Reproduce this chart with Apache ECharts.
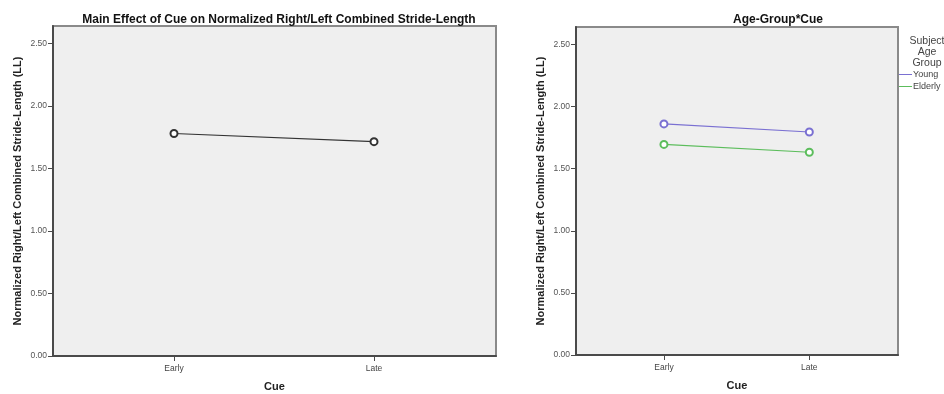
<!DOCTYPE html>
<html>
<head>
<meta charset="utf-8">
<script src="https://cdn.jsdelivr.net/npm/echarts@6/dist/echarts.min.js"></script>
<style>
  html, body { margin: 0; padding: 0; background: #ffffff; }
  #chart { width: 944px; height: 394px; }
</style>
</head>
<body>
<div id="chart"></div>
<script>
// Cue levels (x positions 0 and 1 on the x axis)
const cues = ['Early', 'Late'];
const cuePositions = [0, 1];

// Estimated marginal means of the normalized combined stride length
const mainEffect = [1.78, 1.715];
const youngMeans = [1.86, 1.795];
const elderlyMeans = [1.695, 1.632];

const groupNames = ['Young', 'Elderly'];
const yTicks = [0, 0.5, 1, 1.5, 2, 2.5];

const yTitle = 'Normalized Right/Left Combined Stride-Length (LL)';
const FONT = 'Liberation Sans, Arial, sans-serif';

function pairs(values) {
  return cuePositions.map((x, i) => [x, values[i]]);
}

function xAxis(gridIndex) {
  return {
    type: 'value', gridIndex, min: -0.605, max: 1.61,
    axisLine: { show: true, onZero: false, lineStyle: { color: '#4a4a4a', width: 2 } },
    axisTick: { show: true, customValues: cuePositions, length: 5, lineStyle: { color: '#4a4a4a' } },
    axisLabel: {
      customValues: cuePositions, formatter: v => cues[Math.round(v)] || '',
      color: '#444', fontSize: 8.5, fontFamily: FONT, margin: 8
    },
    splitLine: { show: false },
    name: 'Cue', nameLocation: 'middle', nameGap: 25,
    nameTextStyle: { fontWeight: 'bold', fontSize: 11, color: '#222', fontFamily: FONT }
  };
}

function yAxis(gridIndex) {
  return {
    type: 'value', gridIndex, min: 0, max: 2.64,
    axisLine: { show: true, onZero: false, lineStyle: { color: '#4a4a4a', width: 2 } },
    axisTick: { show: true, customValues: yTicks, length: 5, lineStyle: { color: '#4a4a4a' } },
    axisLabel: {
      customValues: yTicks, formatter: v => v.toFixed(2),
      color: '#555', fontSize: 8.5, fontFamily: FONT, margin: 6
    },
    splitLine: { show: false },
    name: yTitle, nameLocation: 'middle', nameGap: 30,
    nameTextStyle: { fontWeight: 'bold', fontSize: 11, color: '#222', fontFamily: FONT }
  };
}

function lineSeries(name, values, color, idx, markerColor) {
  return {
    name, type: 'line', xAxisIndex: idx, yAxisIndex: idx,
    data: pairs(values),
    symbol: 'emptyCircle', symbolSize: 7,
    lineStyle: { color, width: 1.2 },
    itemStyle: { color, borderColor: markerColor, borderWidth: 0.8 },
    emphasis: { disabled: true },
    animation: false
  };
}

const chart = echarts.init(document.getElementById('chart'), null, { renderer: 'canvas' });
chart.setOption({
  backgroundColor: '#ffffff',
  animation: false,
  title: [
    {
      text: 'Main Effect of Cue on Normalized Right/Left Combined Stride-Length',
      left: 274, top: 9, textAlign: 'center',
      textStyle: { fontSize: 12, fontWeight: 'bold', color: '#111', fontFamily: FONT }
    },
    {
      text: 'Age-Group*Cue',
      left: 773, top: 9, textAlign: 'center',
      textStyle: { fontSize: 12, fontWeight: 'bold', color: '#111', fontFamily: FONT }
    },
    {
      text: 'Subject\nAge\nGroup',
      left: 922, top: 31, textAlign: 'center',
      textStyle: { fontSize: 10.5, fontWeight: 'normal', color: '#444', fontFamily: FONT, lineHeight: 11 }
    }
  ],
  legend: {
    data: groupNames,
    orient: 'vertical', left: 899, top: 70,
    icon: 'rect', itemWidth: 13, itemHeight: 1, itemGap: 3,
    itemStyle: { borderWidth: 0 },
    textStyle: { fontSize: 9, color: '#444', fontFamily: FONT, padding: [0, 0, 0, -4] },
    padding: 0,
    selectedMode: false
  },
  grid: [
    { left: 53, right: 448, top: 26, bottom: 38, show: true, outerBoundsMode: 'none',
      backgroundColor: '#efefef', borderColor: '#8a8a8a', borderWidth: 2 },
    { left: 576, right: 46, top: 27, bottom: 39, show: true, outerBoundsMode: 'none',
      backgroundColor: '#efefef', borderColor: '#8a8a8a', borderWidth: 2 }
  ],
  xAxis: [xAxis(0), xAxis(1)],
  yAxis: [yAxis(0), yAxis(1)],
  series: [
    lineSeries('Cue', mainEffect, '#333333', 0, '#666666'),
    lineSeries(groupNames[0], youngMeans, '#7a70d2', 1, '#8a80d8'),
    lineSeries(groupNames[1], elderlyMeans, '#5cbd5c', 1, '#6cc56c')
  ]
});
</script>
</body>
</html>
